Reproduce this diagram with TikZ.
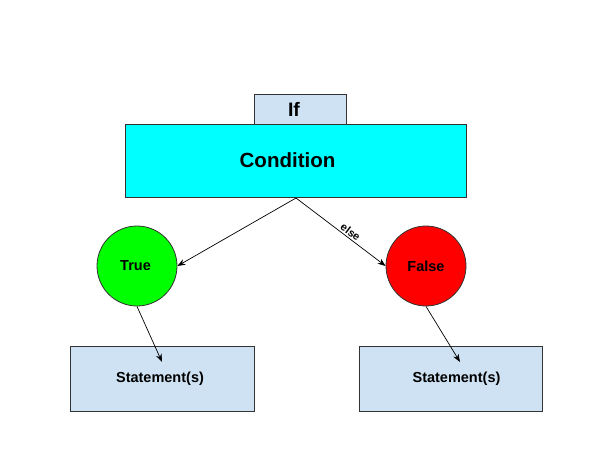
\documentclass[tikz,border=0pt]{standalone}
\usepackage{fontspec}
\setmainfont{Liberation Sans}
\usetikzlibrary{arrows.meta}
\begin{document}
\begin{tikzpicture}[x=1pt,y=-1pt,
  boxst/.style={draw=black!80,line width=0.8pt,inner sep=0pt,font=\bfseries},
  circst/.style={draw=black!80,line width=0.8pt,circle,minimum size=80pt,inner sep=0pt,font=\bfseries\fontsize{14.5}{16}\selectfont},
  conn/.style={line width=0.7pt,-{Stealth[length=8pt,width=6pt]}}]
\useasboundingbox (0,0) rectangle (600,450);
\node[boxst,fill={rgb,255:red,207;green,226;blue,243},minimum width=92pt,minimum height=30pt,font=\bfseries\fontsize{19.5}{21}\selectfont] (if) at (300,109) {\hspace*{-12pt}\raisebox{-3pt}{If}};
\node[boxst,fill={rgb,255:red,0;green,255;blue,255},minimum width=341pt,minimum height=73pt,font=\bfseries\fontsize{20.5}{22}\selectfont] (cond) at (295.5,160.5) {\hspace*{-16pt}\raisebox{-4.5pt}{Condition}};
\node[circst,fill={rgb,255:red,0;green,255;blue,0}] (true) at (137,266) {\hspace*{-3pt}\raisebox{-1pt}{True}};
\node[circst,fill={rgb,255:red,255;green,0;blue,0}] (false) at (426,266) {\raisebox{-1pt}{False}};
\node[boxst,fill={rgb,255:red,207;green,226;blue,243},minimum width=184pt,minimum height=65pt,font=\bfseries\fontsize{14.5}{16}\selectfont] (s1) at (162,378.5) {\hspace*{-4pt}\raisebox{-1.5pt}{Statement(s)}};
\node[boxst,fill={rgb,255:red,207;green,226;blue,243},minimum width=183pt,minimum height=65pt,font=\bfseries\fontsize{14.5}{16}\selectfont] (s2) at (450.5,378.5) {\hspace*{12pt}\raisebox{-1.5pt}{Statement(s)}};
\coordinate (top) at (296,198);
\coordinate (t1) at (162,362);
\coordinate (t2) at (460,362);
\draw[conn] (top) -- (true.east);
\draw[conn] (top) -- node[sloped,above,pos=0.57,inner sep=1.5pt,font=\bfseries\fontsize{11}{12}\selectfont]{else} (false.west);
\draw[conn] (true.south) -- (t1);
\draw[conn] (false.south) -- (t2);
\end{tikzpicture}
\end{document}
